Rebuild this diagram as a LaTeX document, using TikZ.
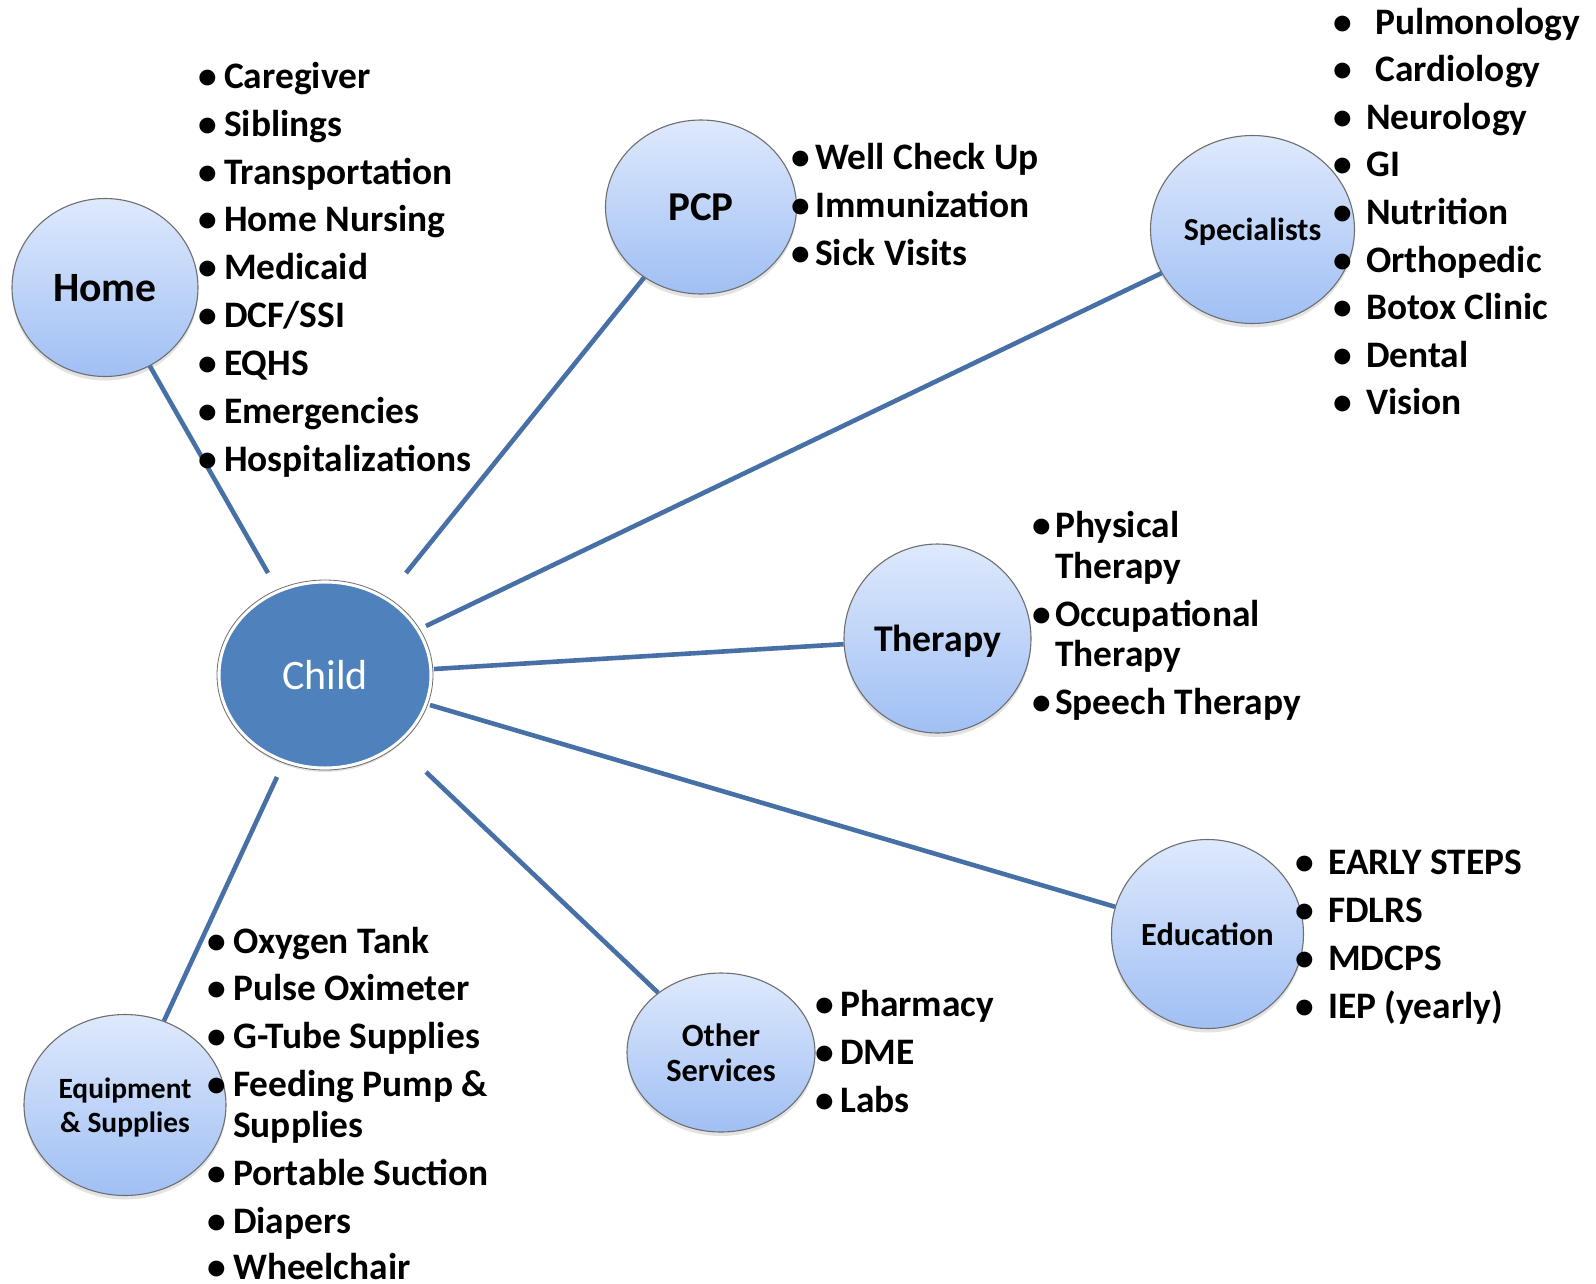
\documentclass[tikz,border=0pt]{standalone}
\usepackage{fontspec}
\setmainfont{Carlito}
\usetikzlibrary{shapes.geometric,shadows}
\definecolor{bubtop}{HTML}{DEE9FC}
\definecolor{bubbot}{HTML}{A0BFF4}
\definecolor{childblue}{HTML}{4F81BD}
\definecolor{linkblue}{HTML}{4770A6}
\definecolor{rimgray}{HTML}{6E6E6E}
\newcommand\litem[5]{\node[bul] (#1b) at (#2,#4) {•}; \node[itm] (#1) at (#3,#4) {#5};}
\begin{document}
\begin{tikzpicture}[x=1pt,y=-1pt,
  bubble/.style={ellipse, inner sep=0pt, draw=rimgray, line width=1.1pt,
    top color=bubtop, bottom color=bubbot, text depth=0pt,
    drop shadow={opacity=0.22, shadow xshift=0pt, shadow yshift=-4pt},
    align=center},
  conn/.style={draw=linkblue, line width=4.6pt},
  itm/.style={anchor=base west, inner sep=0pt, font=\fontsize{37.4}{44}\selectfont\bfseries},
  bul/.style={anchor=base, inner sep=0pt, font=\fontsize{37.4}{44}\selectfont\bfseries},
]
\useasboundingbox (0,0) rectangle (1596,1283);

% central node
\node[ellipse, inner sep=0pt, minimum width=212pt, minimum height=186pt,
  fill=childblue, draw=white, line width=3pt, text=white,
  drop shadow={opacity=0.22, shadow xshift=0pt, shadow yshift=-4pt},
  font=\fontsize{42}{44}\selectfont] (child) at (325,675) {Child};
\draw[rimgray, line width=0.8pt] (child.center) ellipse [x radius=108pt, y radius=95pt];

% connector ends near the child
\coordinate (c-home) at (268,573);
\coordinate (c-pcp) at (406,573);
\coordinate (c-spec) at (426,626);
\coordinate (c-ther) at (434,669);
\coordinate (c-edu) at (430,705);
\coordinate (c-oth) at (426,772);
\coordinate (c-equ) at (277,777);

% outer bubbles
\node[bubble, minimum width=186pt, minimum height=178pt, font=\fontsize{41.7}{44}\selectfont\bfseries] (home) at (105,287.5) {Home};
\node[bubble, minimum width=191pt, minimum height=174pt, font=\fontsize{41}{44}\selectfont\bfseries] (pcp) at (701,207) {PCP};
\node[bubble, minimum width=204pt, minimum height=188pt, font=\fontsize{32}{36}\selectfont\bfseries] (spec) at (1252.5,229.5) {Specialists};
\node[bubble, minimum width=187pt, minimum height=189pt, font=\fontsize{37.7}{42}\selectfont\bfseries] (ther) at (937.5,638.5) {Therapy};
\node[bubble, minimum width=192pt, minimum height=189pt, font=\fontsize{32.3}{36}\selectfont\bfseries] (edu) at (1207.5,934) {Education};
\node[bubble, minimum width=188pt, minimum height=159pt, font=\fontsize{32.4}{34.6}\selectfont\bfseries] (oth) at (721,1052.5) {Other\\Services};
\node[bubble, minimum width=202pt, minimum height=181pt, font=\fontsize{29.4}{33.6}\selectfont\bfseries] (equ) at (125,1105) {Equipment\\\& Supplies};

% connectors
\draw[conn] (c-home) -- (home);
\draw[conn] (c-pcp) -- (pcp);
\draw[conn] (c-spec) -- (spec);
\draw[conn] (c-ther) -- (ther);
\draw[conn] (c-edu) -- (edu);
\draw[conn] (c-oth) -- (oth);
\draw[conn] (c-equ) -- (equ);

% Home list
\litem{h1}{208}{224}{88.3}{Caregiver}
\litem{h2}{208}{224}{136.2}{Siblings}
\litem{h3}{208}{224}{184.0}{Transportation}
\litem{h4}{208}{224}{231.9}{Home Nursing}
\litem{h5}{208}{224}{279.7}{Medicaid}
\litem{h6}{208}{224}{327.6}{DCF/SSI}
\litem{h7}{208}{224}{375.4}{EQHS}
\litem{h8}{208}{224}{423.3}{Emergencies}
\litem{h9}{208}{224}{471.1}{Hospitalizations}

% PCP list
\litem{p1}{801}{815}{169}{Well Check Up}
\litem{p2}{801}{815}{217}{Immunization}
\litem{p3}{801}{815}{265}{Sick Visits}

% Specialists list
\litem{s1}{1343}{1375}{34.0}{Pulmonology}
\litem{s2}{1343}{1375}{81.6}{Cardiology}
\litem{s3}{1343}{1366}{129.2}{Neurology}
\litem{s4}{1343}{1366}{176.8}{GI}
\litem{s5}{1343}{1366}{224.4}{Nutrition}
\litem{s6}{1343}{1366}{272.0}{Orthopedic}
\litem{s7}{1343}{1366}{319.6}{Botox Clinic}
\litem{s8}{1343}{1366}{367.2}{Dental}
\litem{s9}{1343}{1366}{414.8}{Vision}

% Therapy list
\litem{t1}{1042}{1055}{537}{Physical}
\node[itm] (t1c) at (1055,578) {Therapy};
\litem{t2}{1042}{1055}{626}{Occupational}
\node[itm] (t2c) at (1055,666) {Therapy};
\litem{t3}{1042}{1055}{714}{Speech Therapy}

% Education list
\litem{e1}{1305}{1328}{874}{EARLY STEPS}
\litem{e2}{1305}{1328}{922}{FDLRS}
\litem{e3}{1305}{1328}{970}{MDCPS}
\litem{e4}{1305}{1328}{1018}{IEP (yearly)}

% Other services list
\litem{o1}{824.5}{840}{1016.6}{Pharmacy}
\litem{o2}{824.5}{840}{1064.5}{DME}
\litem{o3}{824.5}{840}{1112.3}{Labs}

% Equipment list
\litem{q1}{216.8}{233}{953.5}{Oxygen Tank}
\litem{q2}{216.8}{233}{1000.3}{Pulse Oximeter}
\litem{q3}{216.8}{233}{1048.2}{G-Tube Supplies}
\litem{q4}{216.8}{233}{1096}{Feeding Pump \&}
\node[itm] (q4c) at (233,1137.7) {Supplies};
\litem{q5}{216.8}{233}{1185.6}{Portable Suction}
\litem{q6}{216.8}{233}{1233.4}{Diapers}
\litem{q7}{216.8}{233}{1279.5}{Wheelchair}
\end{tikzpicture}
\end{document}
